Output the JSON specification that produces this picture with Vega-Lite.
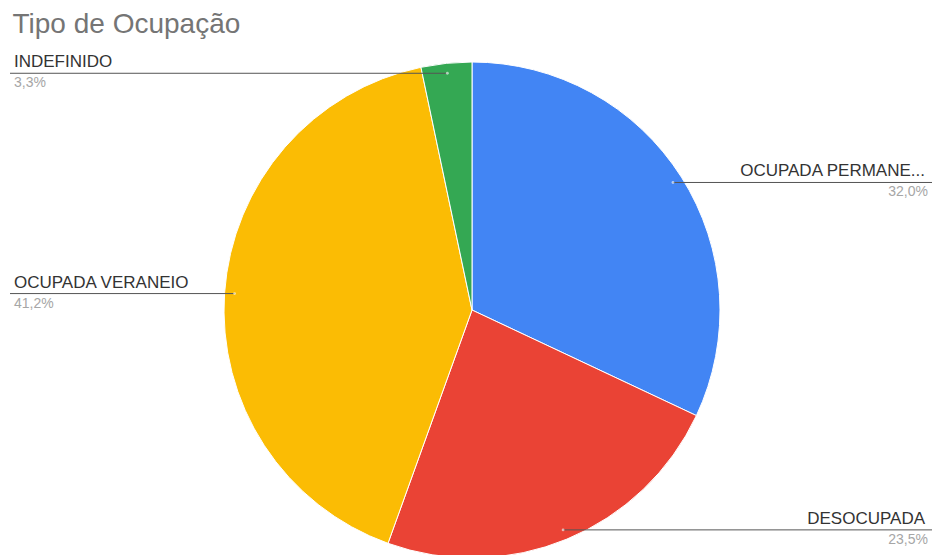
{
  "$schema": "https://vega.github.io/schema/vega-lite/v6.json",
  "autosize": "none",
  "padding": {"left": 10, "top": 50, "right": 6, "bottom": 0},
  "width": 920,
  "height": 505,
  "background": "white",
  "title": {"text": "Tipo de Ocupação", "anchor": "start", "font": "Liberation Sans", "fontSize": 28, "fontWeight": "normal", "color": "#757575", "baseline": "bottom", "offset": 12, "dx": 3, "dy": 29},
  "data": {"values": [
    {"tipo": "OCUPADA PERMANE...", "v": 0.320},
    {"tipo": "DESOCUPADA", "v": 0.235},
    {"tipo": "OCUPADA VERANEIO", "v": 0.412},
    {"tipo": "INDEFINIDO", "v": 0.033}
  ]},
  "transform": [
    {"window": [{"op": "sum", "field": "v", "as": "cum"}, {"op": "row_number", "as": "idx"}], "frame": [null, 0]},
    {"calculate": "2*PI*(datum.cum - datum.v/2)", "as": "mid"},
    {"calculate": "238*sin(datum.mid)", "as": "ax"},
    {"calculate": "238*cos(datum.mid)", "as": "ay"}
  ],
  "encoding": {
    "x": {"type": "quantitative", "scale": {"domain": [-462, 458], "nice": false, "zero": false}, "axis": null},
    "y": {"type": "quantitative", "scale": {"domain": [-245, 260], "nice": false, "zero": false}, "axis": null}
  },
  "layer": [
    {
      "mark": {"type": "arc", "outerRadius": 248, "stroke": "white", "strokeWidth": 1},
      "encoding": {
        "x": {"datum": 0, "type": "quantitative"},
        "y": {"datum": 0, "type": "quantitative"},
        "theta": {"field": "v", "type": "quantitative", "stack": true},
        "order": {"field": "idx", "type": "quantitative"},
        "color": {"field": "tipo", "type": "nominal", "legend": null,
          "scale": {"domain": ["OCUPADA PERMANE...", "DESOCUPADA", "OCUPADA VERANEIO", "INDEFINIDO"], "range": ["#4285F4", "#EA4335", "#FBBC04", "#34A853"]}}
      }
    },
    {
      "transform": [{"filter": "datum.ax < 0"}],
      "mark": {"type": "rule", "color": "#555555", "strokeWidth": 1},
      "encoding": {"x": {"field": "ax"}, "x2": {"datum": -462}, "y": {"field": "ay"}}
    },
    {
      "transform": [{"filter": "datum.ax >= 0"}],
      "mark": {"type": "rule", "color": "#555555", "strokeWidth": 1},
      "encoding": {"x": {"field": "ax"}, "x2": {"datum": 460}, "y": {"field": "ay"}}
    },
    {
      "mark": {"type": "point", "filled": true, "color": "white", "opacity": 0.6, "size": 8},
      "encoding": {"x": {"field": "ax"}, "y": {"field": "ay"}}
    },
    {
      "transform": [{"filter": "datum.ax < 0"}],
      "mark": {"type": "text", "align": "left", "baseline": "bottom", "dx": 4, "dy": -2, "font": "Liberation Sans", "fontSize": 17, "color": "#333333"},
      "encoding": {"x": {"datum": -462}, "y": {"field": "ay"}, "text": {"field": "tipo"}}
    },
    {
      "transform": [{"filter": "datum.ax < 0"}],
      "mark": {"type": "text", "align": "left", "baseline": "top", "dx": 4, "dy": 3, "font": "Liberation Sans", "fontSize": 14, "color": "#a6a6a6"},
      "encoding": {"x": {"datum": -462}, "y": {"field": "ay"}, "text": {"field": "v", "type": "quantitative", "format": ".1%"}}
    },
    {
      "transform": [{"filter": "datum.ax >= 0"}],
      "mark": {"type": "text", "align": "right", "baseline": "bottom", "dx": -5, "dy": -2, "font": "Liberation Sans", "fontSize": 17, "color": "#333333"},
      "encoding": {"x": {"datum": 458}, "y": {"field": "ay"}, "text": {"field": "tipo"}}
    },
    {
      "transform": [{"filter": "datum.ax >= 0"}],
      "mark": {"type": "text", "align": "right", "baseline": "top", "dx": -2, "dy": 3, "font": "Liberation Sans", "fontSize": 14, "color": "#a6a6a6"},
      "encoding": {"x": {"datum": 458}, "y": {"field": "ay"}, "text": {"field": "v", "type": "quantitative", "format": ".1%"}}
    }
  ],
  "config": {
    "view": {"stroke": null},
    "locale": {"number": {"decimal": ",", "thousands": ".", "grouping": [3], "currency": ["", " €"]}}
  }
}
